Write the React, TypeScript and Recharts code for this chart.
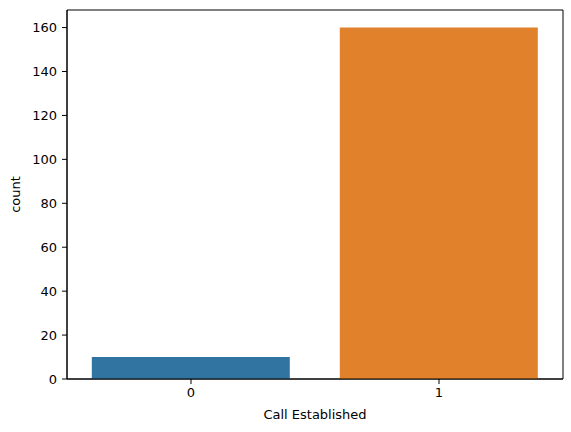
import React from "react";
import { BarChart, Bar, XAxis, YAxis, Cell, Label, ReferenceArea } from "recharts";

const categories = ["0", "1"];
const counts = [10, 160];
const colors = ["#3274a1", "#e1812c"];
const yTicks = [0, 20, 40, 60, 80, 100, 120, 140, 160];
const yMax = 168;

const data = categories.map((c, i) => ({ name: c, count: counts[i] }));

const font = "DejaVu Sans, sans-serif";
const tickStyle = { fontSize: 13, fill: "#000", fontFamily: font };

export default function App() {
  return (
    <div style={{ position: "fixed", left: 0, top: 0, width: 571, height: 432, background: "#fff" }}>
      <BarChart
        width={571}
        height={432}
        data={data}
        margin={{ top: 10, right: 8, left: 0, bottom: 0 }}
        barCategoryGap="10%"
      >
        <XAxis
          dataKey="name"
          height={53}
          stroke="#000"
          tickLine={{ stroke: "#000" }}
          tickSize={5}
          tickMargin={4}
          tick={tickStyle}
        >
          <Label value="Call Established" position="insideBottom" offset={13} style={{ fontSize: 13, fill: "#000", fontFamily: font }} />
        </XAxis>
        <YAxis
          width={67}
          domain={[0, yMax]}
          ticks={yTicks}
          stroke="#000"
          tickLine={{ stroke: "#000" }}
          tickSize={5}
          tickMargin={5}
          tick={tickStyle}
          allowDataOverflow
        >
          <Label value="count" angle={-90} position="insideLeft" offset={15} style={{ fontSize: 13, fill: "#000", fontFamily: font, textAnchor: "middle" }} />
        </YAxis>
        <Bar dataKey="count" isAnimationActive={false}>
          {data.map((d, i) => (
            <Cell key={d.name} fill={colors[i]} />
          ))}
        </Bar>
        <ReferenceArea
          x1={categories[0]}
          x2={categories[categories.length - 1]}
          y1={0}
          y2={yMax}
          fill="none"
          stroke="#000"
          strokeWidth={1}
          ifOverflow="visible"
        />
      </BarChart>
    </div>
  );
}
